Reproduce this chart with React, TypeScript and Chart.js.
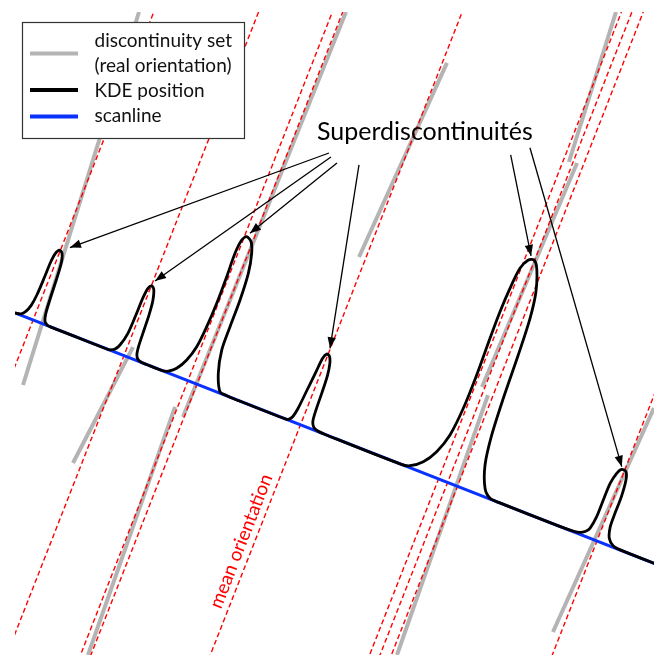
import React, { useEffect, useRef } from "react";
import { Chart, registerables } from "chart.js";

Chart.register(...registerables);

// Everything below is expressed in the scanline frame:
// s = distance along the scanline (px), h = height perpendicular to it (px).

// KDE position curve (one row per superdiscontinuity peak)
const kdeS = [
  0, 6, 9.5, 12.3, 13.8, 14.4, 14.6, 15.8, 18.5, 21.8, 24.6, 26.2, 27.5, 28.8, 31, 34.5, 38, 60, 100,
  102, 106, 109.4, 112.5, 113.3, 113.6, 114.8, 117.4, 120.6, 123.8, 125.4, 126.3, 127.2, 128.6, 131.5, 136, 145,
  155, 159.5, 164, 170.7, 177, 181.5, 183.5, 184.3, 183.9, 183.1, 184.5, 187.9, 193.7, 198.6, 202.8, 204.8, 205.2, 206, 211.3, 219.6, 227, 235,
  291, 294, 296.5, 298.3, 300, 301.7, 303, 305.2, 308.5, 311.5, 313.7, 314.9, 315.6, 316.8, 319.9, 325, 335,
  415, 423.5, 434.4, 443.2, 449.5, 452.2, 452.5, 451.5, 451.1, 451.9, 453.9, 458.6, 463.9, 469.5, 477.3, 481.5, 483.9, 485.8, 488.4, 493.1, 501.6, 509.9, 520,
  585, 600, 606.2, 611, 613.9, 615.9, 616, 616.3, 618.7, 621.9, 626.8, 629.8, 631.6, 631.7, 632.2, 635.5, 642.1, 650, 700,
];
const kdeH = [
  0, 1.5, 5.5, 13, 25, 44, 60, 70, 74.8, 73, 65, 48, 26, 11, 3.2, 0.5, 0, 0, 0,
  0.3, 2.5, 8.5, 22, 42, 61, 71.5, 75, 72.6, 62, 48, 32, 15, 6, 1.5, 0.2, 0,
  0, 0.2, 1.8, 7.5, 18.9, 34.9, 57.2, 82.6, 111, 135.8, 150.6, 155.5, 152.5, 141.9, 122, 94.2, 65.7, 40.9, 18, 1.5, 0.4, 0,
  0, 1.2, 5, 14, 34, 55, 70, 75.5, 74.5, 68, 56, 37, 20, 8, 2.6, 0.6, 0,
  0, 1.9, 10.5, 24.7, 45.1, 74.8, 110.7, 149.7, 178.1, 203.5, 225.8, 236.6, 238.6, 231.9, 209.8, 182.9, 144.4, 98.7, 60.3, 29.9, 8.2, 0.7, 0,
  0, 0.6, 1.8, 5, 9.2, 22.5, 40.4, 58.4, 70.2, 75.7, 75.1, 67.3, 50.2, 32.3, 18, 7, 1.3, 0.2, 0,
];

// scanline extent
const scanlineS = [0, 700];

// mean orientation lines: positions along the scanline
const meanOrientationS = [19.4, 117, 185.7, 195.4, 306.6, 454.9, 464.6, 475.2, 625];

// discontinuity traces (real orientation): start / end in the scanline frame
const discStartS = [5.7, 198.4, 183.3, 122.3, 311, 449.8, 468.6, 470.3, 629.6];
const discStartH = [325.5, 401, -29.1, 11.3, 390.4, 499.5, 344.7, 96.1, 144.5];
const discEndS = [33.7, 194.3, 192.7, 108.7, 299.9, 460.7, 461.8, 480.4, 617.2];
const discEndH = [-64.1, -35.5, -291.8, -118.5, 177.6, 342.6, 101.4, -179.1, -100.8];

// annotation arrows
const arrowFromS = [234, 237.3, 245.1, 266.3, 403.9, 419.2];
const arrowFromH = [263.5, 260.5, 257.1, 263.3, 327.9, 341.7];
const arrowToS = [27.3, 118.7, 189.7, 306.2, 459.7, 621];
const arrowToH = [81, 80.9, 159.9, 82, 241.3, 78.2];

// texts
const titleText = "Superdiscontinuités";
const orientationText = "mean orientation";
const legendLabels = ["discontinuity set", "(real orientation)", "KDE position", "scanline"];

// ---- layout / style constants ----
const W = 654;
const H = 655;
const ORIGIN_X = 15;
const ORIGIN_Y = 313;
const THETA = Math.atan(0.3917);
const COS = Math.cos(THETA);
const SIN = Math.sin(THETA);
const RED = "#ff0000";
const GRAY = "#b4b4b4";
const BLUE = "#0a32ff";
const FONT = "Lato, 'Open Sans', sans-serif";

const toXY = (s: number, h: number) => ({
  x: ORIGIN_X + s * COS + h * SIN,
  y: ORIGIN_Y + s * SIN - h * COS,
});

function buildDatasets() {
  const ds: any[] = [];
  const base = { showLine: true, pointRadius: 0, pointHoverRadius: 0, fill: false };
  discStartS.forEach((_, i) => {
    ds.push({
      ...base,
      data: [toXY(discStartS[i], discStartH[i]), toXY(discEndS[i], discEndH[i])],
      borderColor: GRAY,
      borderWidth: 4,
      borderCapStyle: "butt",
      order: 50,
    });
  });
  meanOrientationS.forEach((s) => {
    ds.push({
      ...base,
      data: [toXY(s, -700), toXY(s, 700)],
      borderColor: RED,
      borderWidth: 1.4,
      borderDash: [5, 3],
      order: 40,
    });
  });
  ds.push({
    ...base,
    data: scanlineS.map((s) => toXY(s, 0)),
    borderColor: BLUE,
    borderWidth: 3,
    order: 30,
  });
  ds.push({
    ...base,
    data: kdeS.map((s, i) => toXY(s, kdeH[i])),
    borderColor: "#000",
    borderWidth: 2.8,
    tension: 0.3,
    borderJoinStyle: "round",
    order: 20,
  });
  arrowFromS.forEach((_, i) => {
    ds.push({
      ...base,
      data: [toXY(arrowFromS[i], arrowFromH[i]), toXY(arrowToS[i], arrowToH[i])],
      borderColor: "#000",
      borderWidth: 1.3,
      order: 10,
    });
  });
  return ds;
}

const overlayPlugin = {
  id: "overlay",
  afterDatasetsDraw(chart: any) {
    const { ctx, scales } = chart;
    const px = (p: { x: number; y: number }) => ({
      x: scales.x.getPixelForValue(p.x),
      y: scales.y.getPixelForValue(p.y),
    });
    ctx.save();
    // arrow heads
    ctx.fillStyle = "#000";
    arrowFromS.forEach((_, i) => {
      const a = px(toXY(arrowFromS[i], arrowFromH[i]));
      const b = px(toXY(arrowToS[i], arrowToH[i]));
      const ang = Math.atan2(b.y - a.y, b.x - a.x);
      const L = 11;
      const hw = 4.2;
      ctx.beginPath();
      ctx.moveTo(b.x, b.y);
      ctx.lineTo(b.x - L * Math.cos(ang) + hw * Math.sin(ang), b.y - L * Math.sin(ang) - hw * Math.cos(ang));
      ctx.lineTo(b.x - L * Math.cos(ang) - hw * Math.sin(ang), b.y - L * Math.sin(ang) + hw * Math.cos(ang));
      ctx.closePath();
      ctx.fill();
    });
    // title
    ctx.font = `25px ${FONT}`;
    ctx.fillStyle = "#000";
    ctx.textAlign = "left";
    ctx.textBaseline = "alphabetic";
    ctx.fillText(titleText, 317, 139.5);
    // mean orientation label
    const c = px(toXY(300, -130));
    ctx.save();
    ctx.translate(c.x, c.y);
    ctx.rotate(THETA - Math.PI / 2);
    ctx.font = `19px ${FONT}`;
    ctx.fillStyle = RED;
    ctx.textAlign = "center";
    ctx.fillText(orientationText, 0, 0);
    ctx.restore();
    // legend
    ctx.fillStyle = "#fff";
    ctx.fillRect(22.5, 22.5, 222, 116);
    ctx.strokeStyle = "#333";
    ctx.lineWidth = 1.2;
    ctx.strokeRect(22.5, 22.5, 222, 116);
    const swatch = (color: string, yy: number) => {
      ctx.beginPath();
      ctx.strokeStyle = color;
      ctx.lineWidth = 4;
      ctx.moveTo(30, yy);
      ctx.lineTo(78, yy);
      ctx.stroke();
    };
    swatch(GRAY, 53.5);
    swatch("#000", 90);
    swatch(BLUE, 116.5);
    ctx.font = `19px ${FONT}`;
    ctx.fillStyle = "#111";
    ctx.textAlign = "left";
    const baselines = [46.7, 71.7, 96.7, 121.7];
    legendLabels.forEach((t, i) => ctx.fillText(t, 94.5, baselines[i]));
    ctx.restore();
  },
};

export default function App() {
  const ref = useRef<HTMLCanvasElement>(null);
  useEffect(() => {
    const canvas = ref.current;
    if (!canvas) return;
    const chart = new Chart(canvas, {
      type: "scatter",
      data: { datasets: buildDatasets() },
      options: {
        responsive: false,
        animation: false,
        events: [],
        layout: { padding: { left: ORIGIN_X, top: 12, right: 0, bottom: 0 } },
        plugins: { legend: { display: false }, tooltip: { enabled: false } },
        scales: {
          x: { type: "linear", display: false, min: ORIGIN_X, max: W },
          y: { type: "linear", display: false, min: 12, max: H, reverse: true },
        },
      },
      plugins: [overlayPlugin],
    } as any);
    return () => chart.destroy();
  }, []);
  return (
    <div style={{ position: "fixed", left: 0, top: 0, width: W, height: H, background: "#fff" }}>
      <canvas ref={ref} width={W} height={H} style={{ display: "block", width: W, height: H }} />
    </div>
  );
}
